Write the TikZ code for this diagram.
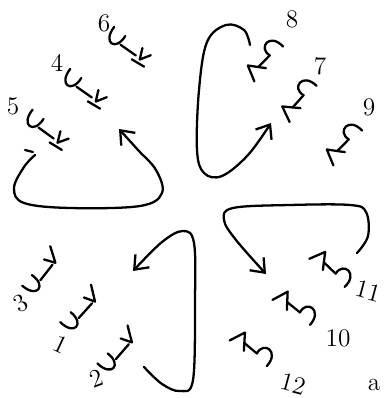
\documentclass[tikz,border=0pt]{standalone}
\usepackage{tikz}
\usetikzlibrary{arrows.meta}

\begin{document}
\begin{tikzpicture}[
    x=0.02cm, y=0.02cm,
    pen/.style={line width=1.3pt, line cap=round, line join=round},
    hand/.style={pen, -{Straight Barb[length=2.4mm, width=3.8mm]}},
    num/.style={font=\Large, inner sep=0pt},
    glyph/.style={scale=1.1},
    cupbar/.pic={
      \draw[pen] (-22,8) .. controls (-23,-10) and (-8,-10) .. (-9,7);
      \draw[pen] (-8,-2) -- (9,-2);
      \draw[pen] (10,7) -- (14,-3) -- (20,6);
      \draw[pen] (8,-7) -- (21,-6);
    },
    cupvee/.pic={
      \draw[pen] (-22,8) .. controls (-23,-10) and (-8,-10) .. (-9,7);
      \draw[pen] (-8,-2) -- (10,-2);
      \draw[pen] (9,7) -- (13,-3) -- (22,10);
    },
    wedgecap/.pic={
      \draw[pen] (-23,-6) -- (-16,8) -- (-7,-6);
      \draw[pen] (-11,0) -- (4,-1);
      \draw[pen] (4,-1) .. controls (2,12) and (20,13) .. (18,-5);
    }
]
\useasboundingbox (0,0) rectangle (383,-398);

% top left
\pic[glyph, rotate=-35] (g6) at (129,-48) {cupbar};
\pic[glyph, rotate=-35] (g4) at (85,-90) {cupbar};
\pic[glyph, rotate=-36] (g5) at (47,-131) {cupbar};
\node[num] (n6) at (104,-23) {6};
\node[num] (n4) at (57,-63) {4};
\node[num] (n5) at (13,-106) {5};

% top right
\pic[glyph, rotate=49] (g8) at (266,-58) {wedgecap};
\pic[glyph, rotate=52] (g7) at (300,-98) {wedgecap};
\pic[glyph, rotate=49] (g9) at (345,-142) {wedgecap};
\node[num] (n8) at (292,-19) {8};
\node[num] (n7) at (320,-66) {7};
\node[num] (n9) at (369,-107) {9};

% bottom left
\pic[glyph, rotate=52] (g3) at (44,-272) {cupvee};
\pic[glyph, rotate=48] (g1) at (83,-310) {cupvee};
\pic[glyph, rotate=49] (g2) at (120,-351) {cupvee};
\node[num, rotate=30] (n3) at (21,-303) {3};
\node[num, rotate=-25] (n1) at (61,-344) {1};
\node[num, rotate=20] (n2) at (96,-378) {2};

% bottom right
\pic[glyph, rotate=-40] (g11) at (333,-270) {wedgecap};
\pic[glyph, rotate=-35] (g10) at (297,-309) {wedgecap};
\pic[glyph, rotate=-36] (g12) at (254,-350) {wedgecap};
\node[num, rotate=-15] (n11) at (368,-291) {11};
\node[num] (n10) at (338,-338) {10};
\node[num, rotate=-15] (n12) at (293,-384) {12};
\node[num] (na) at (374,-385) {a};

% loops
\coordinate (s1) at (35,-155);
\coordinate (e1) at (119,-129);
\coordinate (s2) at (250,-45);
\coordinate (e2) at (271,-123);
\coordinate (s3) at (144,-367);
\coordinate (e3) at (133,-271);
\coordinate (s4) at (357,-253);
\coordinate (e4) at (266,-274);
\draw[pen] (25,-150) -- (33,-152);
\draw[hand] plot[smooth, tension=0.6] coordinates {(s1) (24,-167) (14,-188) (24,-203) (70,-208) (140,-206) (162,-193) (156,-170) (138,-150) (e1)};
\draw[hand] plot[smooth, tension=0.6] coordinates {(s2) (244,-30) (226,-25) (207,-42) (199,-90) (197,-150) (204,-173) (222,-176) (248,-155) (e2)};
\draw[hand] plot[smooth, tension=0.6] coordinates {(s3) (162,-384) (180,-391) (193,-380) (195,-300) (194,-243) (183,-231) (162,-242) (e3)};
\draw[hand] plot[smooth, tension=0.6] coordinates {(s4) (368,-236) (366,-212) (350,-205) (290,-205) (233,-208) (224,-220) (236,-240) (e4)};
\end{tikzpicture}
\end{document}
